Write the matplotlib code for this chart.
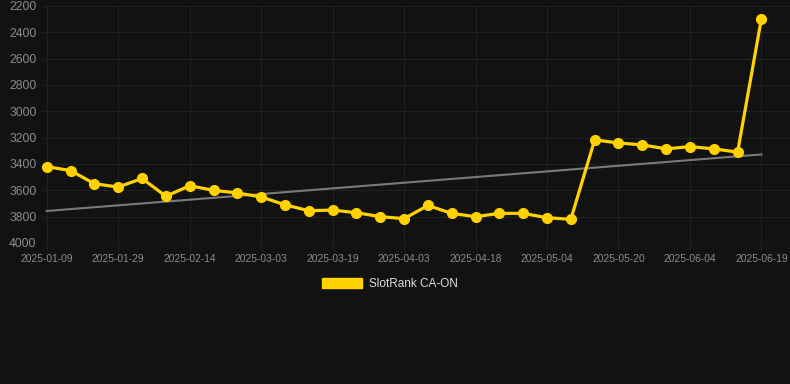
import matplotlib
matplotlib.use("Agg")
import matplotlib.pyplot as plt
import numpy as np
from matplotlib.patches import Patch

# rank values per sample (lower is better, axis inverted)
ranks = [3420, 3450, 3550, 3575, 3510, 3645, 3565, 3600, 3620, 3650,
         3710, 3755, 3750, 3770, 3800, 3815, 3715, 3775, 3800, 3775,
         3775, 3808, 3820, 3217, 3240, 3255, 3285, 3268, 3285, 3310,
         2295]
tick_labels = ['2025-01-09', '2025-01-29', '2025-02-14', '2025-03-03',
               '2025-03-19', '2025-04-03', '2025-04-18', '2025-05-04',
               '2025-05-20', '2025-06-04', '2025-06-19']
series_name = 'SlotRank CA-ON'

bg = '#121212'
grid_c = '#212121'
txt_c = '#8c8c8c'
yellow = '#ffd200'

plt.rcParams['font.family'] = ['Liberation Sans', 'DejaVu Sans']

fig = plt.figure(figsize=(7.9, 3.84), dpi=100, facecolor=bg)
ax = fig.add_axes([42 / 790, 1 - 243 / 384, 748 / 790, 237 / 384])
ax.set_facecolor(bg)

x = np.arange(len(ranks))
# linear trend through the series
k, b = np.polyfit(x, ranks, 1)
ax.plot(x, k * x + b, color='#7a7a7a', lw=1.5, zorder=2)
ax.plot(x, ranks, color=yellow, lw=2.3, marker='o', ms=7, zorder=3)

ax.set_ylim(4000, 2200)
ax.set_yticks(range(2200, 4001, 200))
ax.set_xlim(-0.2, 31.2)
ax.set_xticks(x[::3])
ax.set_xticklabels(tick_labels)

ax.grid(True, color=grid_c, lw=0.8)
for s in ax.spines.values():
    s.set_visible(False)
ax.axhline(4000, color='#2a2a2a', lw=1, zorder=1)
ax.tick_params(axis='x', colors=grid_c, labelcolor=txt_c, labelsize=7.4, length=5, pad=3)
ax.tick_params(axis='y', length=0, labelcolor=txt_c, labelsize=8.7, pad=4)

fig.legend(handles=[Patch(facecolor=yellow, edgecolor=yellow)], labels=[series_name],
           loc='center', bbox_to_anchor=(390 / 790, 1 - 284 / 384), frameon=False,
           fontsize=8.5, labelcolor='#dddddd', handlelength=3.4, handleheight=0.95,
           handletextpad=0.6)

fig.savefig('out.png', dpi=100, facecolor=bg)
